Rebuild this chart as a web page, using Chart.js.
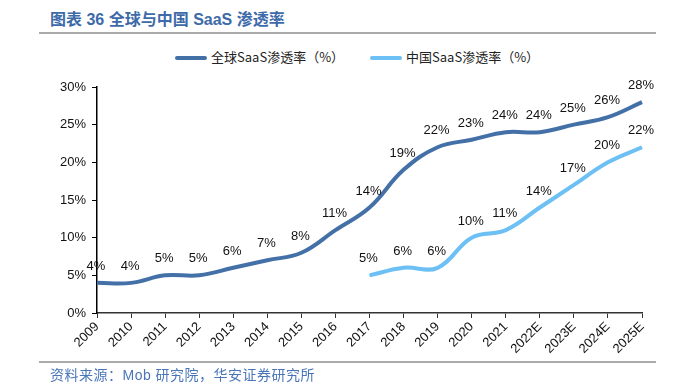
<!DOCTYPE html>
<html>
<head>
<meta charset="utf-8">
<script src="https://cdn.jsdelivr.net/npm/chart.js@4"></script>
<style>
  html, body { margin: 0; padding: 0; background: #fff; }
  #wrap { position: relative; width: 678px; height: 386px; overflow: hidden; }
  #chart { position: absolute; left: 0; top: 0; }
  .title {
    position: absolute; left: 50px; top: 6px;
    font: bold 16px "Liberation Sans", "Noto Sans CJK SC", sans-serif;
    color: #3d6aa8; white-space: nowrap;
  }
  .rule { position: absolute; left: 39px; width: 617px; height: 2px; background: #aaaaaa; }
  .source {
    position: absolute; left: 50px; top: 364px;
    font: 14px "Liberation Sans", "Noto Sans CJK SC", sans-serif;
    letter-spacing: 0.5px;
    color: #4a76b8; white-space: nowrap;
  }
  .legend { position: absolute; top: 47px; font: 13px "Noto Sans CJK SC", sans-serif; color: #222; white-space: nowrap; }
  .legend span.line { display: inline-block; width: 32px; height: 4px; border-radius: 2px; vertical-align: middle; margin-right: 4px; }
</style>
</head>
<body>
<div id="wrap">
  <div class="title">图表 36 全球与中国 SaaS 渗透率</div>
  <div class="rule" style="top:32px"></div>
  <div class="legend" style="left:175px"><span class="line" style="background:#4470a8"></span>全球SaaS渗透率（%）</div>
  <div class="legend" style="left:370px"><span class="line" style="background:#6cc0f4"></span>中国SaaS渗透率（%）</div>
  <canvas id="chart" width="678" height="386"></canvas>
  <div class="rule" style="top:361px"></div>
  <div class="source">资料来源：Mob 研究院，华安证券研究所</div>
</div>
<script>
// categories and series
const years = ['2009', '2010', '2011', '2012', '2013', '2014', '2015', '2016', '2017',
  '2018', '2019', '2020', '2021', '2022E', '2023E', '2024E', '2025E'];
const globalRate = [4, 4, 5, 5, 6, 7, 8, 11, 14, 19, 22, 23, 24, 24, 25, 26, 28];
const chinaRate = [null, null, null, null, null, null, null, null, 5, 6, 6, 10, 11, 14, 17, 20, 22];
const yTicks = [0, 5, 10, 15, 20, 25, 30];

// point value labels, drawn above each point
const pointLabels = {
  id: 'pointLabels',
  afterDatasetsDraw(chart) {
    const ctx = chart.ctx;
    ctx.save();
    ctx.font = '13px "Liberation Sans", Arial, sans-serif';
    ctx.fillStyle = '#111';
    ctx.textAlign = 'center';
    ctx.textBaseline = 'bottom';
    chart.data.datasets.forEach((ds, i) => {
      const meta = chart.getDatasetMeta(i);
      meta.data.forEach((pt, j) => {
        const v = ds.data[j];
        if (v === null || v === undefined) return;
        ctx.fillText(v + '%', pt.x - 1, pt.y - 10);
      });
    });
    ctx.restore();
  }
};

const ctx = document.getElementById('chart');
new Chart(ctx, {
  type: 'line',
  data: {
    labels: years,
    datasets: [
      {
        label: '全球SaaS渗透率（%）',
        data: globalRate,
        borderColor: '#4470a8',
        borderWidth: 4,
        pointRadius: 0,
        tension: 0.4,
        fill: false
      },
      {
        label: '中国SaaS渗透率（%）',
        data: chinaRate,
        borderColor: '#6cc0f4',
        borderWidth: 4,
        pointRadius: 0,
        tension: 0.4,
        fill: false
      }
    ]
  },
  options: {
    responsive: false,
    animation: false,
    layout: { padding: { left: 0, top: 87, right: 36, bottom: 23 } },
    plugins: {
      legend: { display: false },
      tooltip: { enabled: false }
    },
    scales: {
      x: {
        offset: false,
        grid: { offset: false, drawOnChartArea: false, drawTicks: true, tickLength: 5, color: '#333' },
        border: { display: true, color: '#333', width: 1.5 },
        ticks: {
          autoSkip: false, maxRotation: 45, minRotation: 45, padding: 1,
          color: '#111', font: { size: 13, family: '"Liberation Sans", Arial, sans-serif' }
        },
        afterFit(scale) { scale.height = 50; }
      },
      y: {
        min: 0, max: 30,
        afterBuildTicks(scale) { scale.ticks = yTicks.map(v => ({ value: v })); },
        grid: { drawOnChartArea: false, drawTicks: true, tickLength: 5, color: '#000' },
        border: { display: true, color: '#000', width: 1.5 },
        ticks: {
          padding: 6, color: '#111',
          font: { size: 13, family: '"Liberation Sans", Arial, sans-serif' },
          callback: v => v + '%'
        },
        afterFit(scale) { scale.width = 97; }
      }
    }
  },
  plugins: [pointLabels]
});
</script>
</body>
</html>
